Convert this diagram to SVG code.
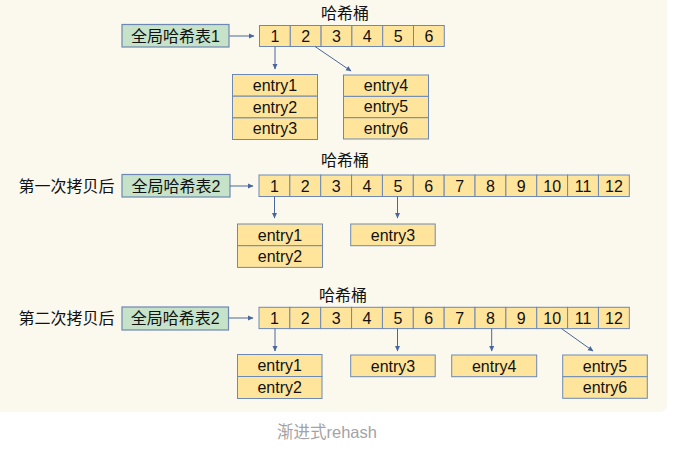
<svg xmlns="http://www.w3.org/2000/svg" width="683" height="451" viewBox="0 0 683 451">
<style>
.bg{fill:#FBF8EE}
.lbl{fill:#C6E2C8;stroke:#6D89B3;stroke-width:1.2}
.cell{fill:#FFE49C;stroke:#6D89B3;stroke-width:1}
.t{font-family:"Liberation Sans","Noto Sans CJK SC",sans-serif;font-size:16px;fill:#111;text-anchor:middle}
.tl{font-family:"Liberation Sans","Noto Sans CJK SC",sans-serif;font-size:16px;fill:#111}
.cap{font-family:"Liberation Sans","Noto Sans CJK SC",sans-serif;font-size:16.5px;fill:#A3A3A3;text-anchor:middle}
.ar{stroke:#4A66A0;stroke-width:1;fill:none;marker-end:url(#ah)}
</style>
<defs>
<marker id="ah" markerWidth="6" markerHeight="6" refX="5" refY="3" orient="auto" markerUnits="userSpaceOnUse">
<path d="M0,0.5 L5.5,3 L0,5.5 Z" fill="#4A66A0"/>
</marker>
</defs>
<path class="bg" d="M0,0 H667 V404 Q667,412 659,412 H0 Z"/>

<!-- Section 1 -->
<g id="table1">
<rect class="lbl" x="122" y="24.5" width="107" height="22.5"/>
<text class="t" x="175.5" y="41.5">全局哈希表1</text>
</g>
<g id="buckets1">
<text class="t" x="345" y="19">哈希桶</text>
<rect class="cell" x="259.5" y="25.5" width="30.8" height="21"/>
<rect class="cell" x="290.3" y="25.5" width="30.8" height="21"/>
<rect class="cell" x="321.1" y="25.5" width="30.8" height="21"/>
<rect class="cell" x="351.9" y="25.5" width="30.8" height="21"/>
<rect class="cell" x="382.7" y="25.5" width="30.8" height="21"/>
<rect class="cell" x="413.5" y="25.5" width="30.8" height="21"/>
<text class="t" x="274.9" y="41.8">1</text>
<text class="t" x="305.7" y="41.8">2</text>
<text class="t" x="336.5" y="41.8">3</text>
<text class="t" x="367.3" y="41.8">4</text>
<text class="t" x="398.1" y="41.8">5</text>
<text class="t" x="428.9" y="41.8">6</text>
</g>
<g id="s1e123">
<rect class="cell" x="232.5" y="74.5" width="85" height="21.7"/>
<rect class="cell" x="232.5" y="96.2" width="85" height="21.7"/>
<rect class="cell" x="232.5" y="117.9" width="85" height="21.6"/>
<text class="t" x="275" y="90.8">entry1</text>
<text class="t" x="275" y="112.5">entry2</text>
<text class="t" x="275" y="134.2">entry3</text>
</g>
<g id="s1e456">
<rect class="cell" x="343.5" y="75" width="85" height="21.4"/>
<rect class="cell" x="343.5" y="96.4" width="85" height="21.3"/>
<rect class="cell" x="343.5" y="117.7" width="85" height="21.3"/>
<text class="t" x="386" y="91">entry4</text>
<text class="t" x="386" y="112.3">entry5</text>
<text class="t" x="386" y="133.6">entry6</text>
</g>

<!-- Section 2 -->
<text class="tl" x="18.5" y="191.8">第一次拷贝后</text>
<g id="table2a">
<rect class="lbl" x="122" y="174.5" width="108" height="22.5"/>
<text class="t" x="176" y="191.8">全局哈希表2</text>
</g>
<g id="buckets2">
<text class="t" x="345" y="166">哈希桶</text>
<rect class="cell" x="259" y="175" width="30.86" height="21.5"/>
<rect class="cell" x="289.86" y="175" width="30.86" height="21.5"/>
<rect class="cell" x="320.72" y="175" width="30.86" height="21.5"/>
<rect class="cell" x="351.58" y="175" width="30.86" height="21.5"/>
<rect class="cell" x="382.44" y="175" width="30.86" height="21.5"/>
<rect class="cell" x="413.3" y="175" width="30.86" height="21.5"/>
<rect class="cell" x="444.16" y="175" width="30.86" height="21.5"/>
<rect class="cell" x="475.02" y="175" width="30.86" height="21.5"/>
<rect class="cell" x="505.88" y="175" width="30.86" height="21.5"/>
<rect class="cell" x="536.74" y="175" width="30.86" height="21.5"/>
<rect class="cell" x="567.6" y="175" width="30.86" height="21.5"/>
<rect class="cell" x="598.46" y="175" width="30.86" height="21.5"/>
<text class="t" x="274.4" y="191.6">1</text>
<text class="t" x="305.3" y="191.6">2</text>
<text class="t" x="336.2" y="191.6">3</text>
<text class="t" x="367" y="191.6">4</text>
<text class="t" x="397.9" y="191.6">5</text>
<text class="t" x="428.7" y="191.6">6</text>
<text class="t" x="459.6" y="191.6">7</text>
<text class="t" x="490.5" y="191.6">8</text>
<text class="t" x="521.3" y="191.6">9</text>
<text class="t" x="552.2" y="191.6">10</text>
<text class="t" x="583" y="191.6">11</text>
<text class="t" x="613.9" y="191.6">12</text>
</g>
<g id="s2e12">
<rect class="cell" x="237.5" y="224" width="85" height="21.7"/>
<rect class="cell" x="237.5" y="245.7" width="85" height="21.7"/>
<text class="t" x="280" y="240.5">entry1</text>
<text class="t" x="280" y="262.2">entry2</text>
</g>
<g id="s2e3">
<rect class="cell" x="350.7" y="224" width="84.5" height="21.7"/>
<text class="t" x="393" y="240.5">entry3</text>
</g>

<!-- Section 3 -->
<text class="tl" x="18.5" y="324">第二次拷贝后</text>
<g id="table2b">
<rect class="lbl" x="122" y="307" width="106.5" height="23"/>
<text class="t" x="175.3" y="324.3">全局哈希表2</text>
</g>
<g id="buckets3">
<text class="t" x="343" y="301">哈希桶</text>
<rect class="cell" x="259" y="307.3" width="30.86" height="21.3"/>
<rect class="cell" x="289.86" y="307.3" width="30.86" height="21.3"/>
<rect class="cell" x="320.72" y="307.3" width="30.86" height="21.3"/>
<rect class="cell" x="351.58" y="307.3" width="30.86" height="21.3"/>
<rect class="cell" x="382.44" y="307.3" width="30.86" height="21.3"/>
<rect class="cell" x="413.3" y="307.3" width="30.86" height="21.3"/>
<rect class="cell" x="444.16" y="307.3" width="30.86" height="21.3"/>
<rect class="cell" x="475.02" y="307.3" width="30.86" height="21.3"/>
<rect class="cell" x="505.88" y="307.3" width="30.86" height="21.3"/>
<rect class="cell" x="536.74" y="307.3" width="30.86" height="21.3"/>
<rect class="cell" x="567.6" y="307.3" width="30.86" height="21.3"/>
<rect class="cell" x="598.46" y="307.3" width="30.86" height="21.3"/>
<text class="t" x="274.4" y="323.8">1</text>
<text class="t" x="305.3" y="323.8">2</text>
<text class="t" x="336.2" y="323.8">3</text>
<text class="t" x="367" y="323.8">4</text>
<text class="t" x="397.9" y="323.8">5</text>
<text class="t" x="428.7" y="323.8">6</text>
<text class="t" x="459.6" y="323.8">7</text>
<text class="t" x="490.5" y="323.8">8</text>
<text class="t" x="521.3" y="323.8">9</text>
<text class="t" x="552.2" y="323.8">10</text>
<text class="t" x="583" y="323.8">11</text>
<text class="t" x="613.9" y="323.8">12</text>
</g>
<g id="s3e12">
<rect class="cell" x="237.5" y="354.5" width="84.5" height="22"/>
<rect class="cell" x="237.5" y="376.5" width="84.5" height="22"/>
<text class="t" x="279.7" y="371.3">entry1</text>
<text class="t" x="279.7" y="393.3">entry2</text>
</g>
<g id="s3e3">
<rect class="cell" x="350.7" y="355" width="84.5" height="21.7"/>
<text class="t" x="393" y="371.5">entry3</text>
</g>
<g id="s3e4">
<rect class="cell" x="451.7" y="355" width="85" height="21.7"/>
<text class="t" x="494.2" y="371.5">entry4</text>
</g>
<g id="s3e56">
<rect class="cell" x="562.7" y="355" width="84.6" height="21.7"/>
<rect class="cell" x="562.7" y="376.7" width="84.6" height="21.6"/>
<text class="t" x="605" y="371.5">entry5</text>
<text class="t" x="605" y="393.2">entry6</text>
</g>

<g id="connectors">
<line class="ar" x1="229.5" y1="36" x2="254" y2="36"/>
<line class="ar" x1="275" y1="46.5" x2="275" y2="69"/>
<line class="ar" x1="315" y1="46.5" x2="351" y2="71"/>
<line class="ar" x1="230" y1="186" x2="253" y2="186"/>
<line class="ar" x1="274.5" y1="196.5" x2="274.5" y2="218"/>
<line class="ar" x1="397.5" y1="196.5" x2="397.5" y2="218"/>
<line class="ar" x1="228.5" y1="318" x2="253" y2="318"/>
<line class="ar" x1="275" y1="328.6" x2="275" y2="351"/>
<line class="ar" x1="397.5" y1="328.6" x2="397.5" y2="351"/>
<line class="ar" x1="491.7" y1="328.6" x2="491.7" y2="351"/>
<line class="ar" x1="561.5" y1="328.6" x2="593" y2="351"/>
</g>

<text class="cap" x="327" y="438">渐进式rehash</text>
</svg>
